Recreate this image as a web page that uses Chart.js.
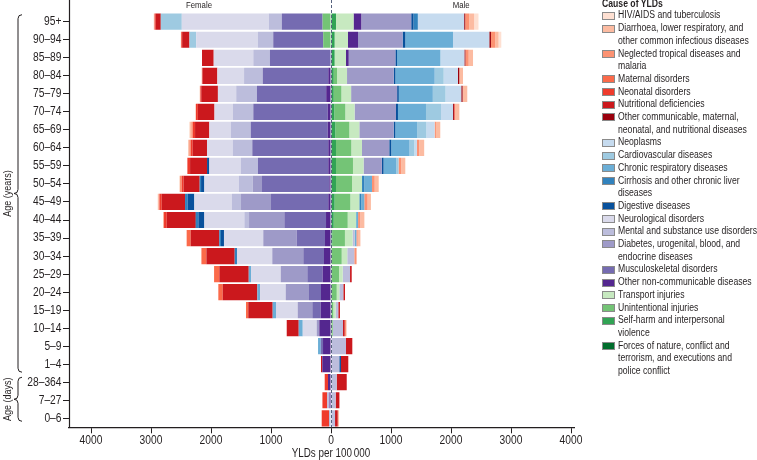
<!DOCTYPE html>
<html>
<head>
<meta charset="utf-8">
<script src="https://cdn.jsdelivr.net/npm/chart.js@4.4.0/dist/chart.umd.min.js"></script>
<style>
  body { margin: 0; background: #fff; }
  #wrap { position: relative; width: 757px; height: 460px; overflow: hidden; }
  #chart { position: absolute; left: 0; top: 0; }
  #legend {
    position: absolute; left: 602px; top: -2px;
    font-family: 'Liberation Sans', Arial, sans-serif;
    font-size: 10px; color: #231f20; white-space: pre;
  }
  #legend .txt { display: inline-block; transform: scaleX(0.865); transform-origin: 0 0; }
  #legend .title { font-weight: bold; line-height: 11.4px; }
  #legend .item { position: relative; padding-left: 16px; line-height: 12.7px; }
  #legend .sw {
    position: absolute; left: 0; top: 2.4px; width: 13px; height: 8px;
    box-sizing: border-box; border: 1px solid #8a8a8a;
  }
</style>
</head>
<body>
<div id="wrap">
  <canvas id="chart" width="757" height="460"></canvas>
  <div id="legend"></div>
</div>
<script>
// age groups, top to bottom
const ageGroups = ["95+", "90–94", "85–89", "80–84", "75–79", "70–74", "65–69", "60–64",
  "55–59", "50–54", "45–49", "40–44", "35–39", "30–34", "25–29", "20–24", "15–19",
  "10–14", "5–9", "1–4", "28–364", "7–27", "0–6"];

const xTicks = [-4000, -3000, -2000, -1000, 0, 1000, 2000, 3000, 4000];

// legend order
const causeNames = [
  "HIV/AIDS and tuberculosis",
  "Diarrhoea, lower respiratory, and\nother common infectious diseases",
  "Neglected tropical diseases and\nmalaria",
  "Maternal disorders",
  "Neonatal disorders",
  "Nutritional deficiencies",
  "Other communicable, maternal,\nneonatal, and nutritional diseases",
  "Neoplasms",
  "Cardiovascular diseases",
  "Chronic respiratory diseases",
  "Cirrhosis and other chronic liver\ndiseases",
  "Digestive diseases",
  "Neurological disorders",
  "Mental and substance use disorders",
  "Diabetes, urogenital, blood, and\nendocrine diseases",
  "Musculoskeletal disorders",
  "Other non-communicable diseases",
  "Transport injuries",
  "Unintentional injuries",
  "Self-harm and interpersonal\nviolence",
  "Forces of nature, conflict and\nterrorism, and executions and\npolice conflict"
];
const causeColors = ["#fee0d2", "#fcbba1", "#fc9272", "#fb6a4a", "#ef3b2c", "#cb181d", "#99000d",
  "#c6dbef", "#9ecae1", "#6baed6", "#3182bd", "#08519c",
  "#dadaeb", "#bcbddc", "#9e9ac8", "#756bb1", "#54278f",
  "#c7e9c0", "#74c476", "#31a354", "#006d2c"];

// Female, YLDs per 100 000
const fHIV =          [15, 10, 0, 0, 15, 10, 15, 0, 0, 15, 15, 0, 0, 0, 0, 0, 0, 0, 0, 0, 0, 0, 0];
const fDiarrhoea =    [0, 0, 0, 0, 0, 0, 20, 17, 0, 0, 0, 0, 0, 0, 0, 0, 0, 0, 0, 0, 0, 0, 0];
const fNTD =          [0, 0, 0, 10, 0, 0, 25, 25, 0, 28, 17, 12, 0, 0, 0, 0, 0, 0, 0, 0, 0, 0, 0];
const fMaternal =     [0, 0, 0, 0, 0, 0, 0, 0, 0, 0, 0, 0, 67, 83, 88, 73, 38, 0, 0, 0, 0, 0, 0];
const fNeonatal =     [20, 15, 0, 0, 15, 33, 38, 33, 45, 33, 38, 45, 0, 0, 0, 0, 0, 0, 0, 0, 55, 78, 122];
const fNutritional =  [85, 122, 195, 250, 278, 277, 238, 238, 283, 267, 388, 472, 477, 472, 490, 577, 407, 200, 0, 22, 0, 0, 0];
const fOtherComm =    [0, 0, 0, 0, 0, 0, 0, 0, 0, 0, 0, 12, 0, 0, 0, 0, 0, 0, 0, 0, 0, 0, 0];
const fNeoplasms =    [0, 0, 0, 0, 0, 0, 0, 0, 0, 0, 0, 0, 0, 0, 0, 0, 0, 0, 0, 0, 0, 0, 0];
const fCardio =       [350, 112, 0, 0, 0, 0, 0, 0, 0, 0, 0, 0, 0, 0, 0, 0, 0, 0, 0, 0, 0, 0, 0];
const fChronicResp =  [0, 0, 0, 0, 0, 0, 0, 0, 0, 0, 0, 0, 0, 0, 38, 45, 55, 67, 45, 0, 0, 0, 0];
const fCirrhosis =    [0, 0, 0, 0, 0, 0, 0, 0, 0, 23, 45, 43, 28, 38, 0, 0, 0, 0, 0, 0, 0, 0, 0];
const fDigestive =    [0, 0, 0, 0, 0, 0, 0, 0, 38, 55, 110, 100, 50, 0, 0, 0, 0, 0, 0, 0, 0, 0, 0];
const fNeuro =        [1450, 1027, 660, 445, 305, 307, 357, 428, 523, 573, 623, 667, 655, 588, 495, 428, 362, 233, 0, 0, 0, 0, 0];
const fMental =       [217, 257, 278, 311, 345, 340, 333, 327, 288, 233, 155, 78, 0, 0, 0, 0, 0, 0, 0, 0, 0, 40, 33];
const fDiabetes =     [0, 0, 0, 0, 0, 0, 0, 0, 0, 155, 500, 588, 557, 517, 443, 388, 243, 43, 0, 0, 0, 0, 0];
const fMusculo =      [680, 833, 1017, 1093, 1155, 1240, 1283, 1267, 1172, 1122, 955, 695, 472, 345, 257, 200, 140, 0, 38, 0, 0, 0, 0];
const fOtherNCD =     [0, 0, 0, 45, 80, 55, 55, 45, 45, 28, 45, 83, 100, 117, 138, 167, 172, 195, 133, 145, 50, 25, 0];
const fTransport =    [0, 0, 0, 0, 0, 0, 0, 0, 0, 0, 0, 0, 0, 0, 0, 0, 0, 0, 0, 0, 0, 0, 0];
const fUnintentional =[140, 130, 0, 0, 0, 0, 0, 0, 0, 0, 0, 0, 0, 0, 0, 0, 0, 0, 0, 0, 0, 0, 0];
const fSelfHarm =     [0, 0, 0, 0, 0, 0, 0, 0, 0, 0, 0, 0, 0, 0, 0, 0, 0, 0, 0, 0, 0, 0, 0];
const fForces =       [0, 0, 0, 0, 0, 0, 0, 0, 0, 0, 0, 0, 0, 0, 0, 0, 0, 0, 0, 0, 0, 0, 0];

// Male, YLDs per 100 000
const mHIV =          [72, 45, 0, 0, 0, 0, 0, 0, 0, 0, 0, 0, 0, 0, 0, 0, 0, 0, 0, 0, 0, 0, 0];
const mDiarrhoea =    [83, 55, 72, 62, 78, 78, 72, 83, 67, 67, 55, 67, 45, 0, 0, 0, 0, 0, 0, 0, 0, 0, 22];
const mNTD =          [67, 72, 55, 0, 0, 0, 22, 38, 45, 45, 55, 38, 22, 38, 0, 0, 0, 28, 0, 0, 0, 0, 0];
const mMaternal =     [0, 0, 0, 0, 0, 0, 0, 0, 0, 0, 0, 0, 0, 0, 0, 0, 0, 0, 0, 0, 0, 0, 0];
const mNeonatal =     [0, 0, 0, 0, 0, 13, 0, 0, 0, 0, 0, 0, 0, 0, 0, 0, 0, 0, 0, 0, 0, 0, 0];
const mNutritional =  [0, 0, 0, 0, 0, 0, 0, 0, 0, 0, 0, 0, 0, 0, 28, 28, 28, 28, 105, 122, 167, 62, 45];
const mOtherComm =    [17, 28, 17, 22, 22, 15, 0, 0, 0, 0, 0, 0, 0, 0, 0, 0, 0, 0, 0, 0, 0, 0, 0];
const mNeoplasms =    [772, 605, 400, 238, 262, 200, 138, 45, 0, 0, 0, 0, 0, 0, 0, 0, 0, 0, 0, 0, 0, 0, 0];
const mCardio =       [0, 0, 0, 150, 212, 250, 155, 78, 38, 0, 0, 0, 0, 0, 0, 0, 0, 0, 0, 0, 0, 0, 0];
const mChronicResp =  [0, 795, 722, 655, 567, 467, 362, 305, 212, 128, 50, 33, 28, 0, 0, 0, 0, 0, 0, 0, 0, 0, 0];
const mCirrhosis =    [72, 0, 0, 0, 0, 0, 0, 0, 0, 38, 33, 0, 0, 0, 0, 0, 0, 0, 0, 0, 0, 0, 0];
const mDigestive =    [38, 45, 28, 28, 28, 33, 28, 33, 28, 0, 0, 0, 0, 0, 0, 0, 0, 0, 0, 28, 0, 0, 0];
const mNeuro =        [0, 0, 0, 0, 0, 0, 0, 0, 0, 0, 0, 0, 0, 0, 0, 0, 0, 0, 0, 0, 0, 0, 0];
const mMental =       [0, 0, 0, 0, 0, 0, 0, 0, 0, 0, 0, 0, 35, 117, 122, 67, 45, 172, 250, 138, 95, 78, 67];
const mDiabetes =     [833, 743, 778, 778, 767, 690, 572, 455, 305, 0, 0, 0, 0, 0, 0, 0, 0, 0, 0, 0, 0, 0, 0];
const mMusculo =      [0, 0, 0, 0, 0, 0, 0, 0, 0, 0, 0, 0, 0, 0, 0, 0, 0, 0, 0, 0, 0, 0, 0];
const mOtherNCD =     [128, 167, 45, 0, 0, 0, 0, 0, 0, 0, 0, 0, 0, 0, 0, 0, 0, 0, 0, 0, 0, 0, 0];
const mTransport =    [293, 223, 190, 167, 162, 155, 167, 178, 177, 167, 150, 140, 128, 93, 62, 43, 38, 0, 0, 0, 0, 0, 0];
const mUnintentional =[0, 0, 0, 55, 128, 183, 233, 255, 283, 267, 262, 233, 212, 178, 133, 95, 38, 28, 0, 0, 0, 0, 0];
const mSelfHarm =     [83, 60, 60, 45, 45, 55, 72, 83, 83, 83, 60, 45, 20, 0, 0, 0, 0, 0, 0, 0, 0, 0, 0];
const mForces =       [0, 0, 0, 0, 0, 0, 0, 0, 0, 0, 0, 0, 0, 0, 0, 0, 0, 0, 0, 0, 0, 0, 0];

const femaleSeries = [fHIV, fDiarrhoea, fNTD, fMaternal, fNeonatal, fNutritional, fOtherComm,
  fNeoplasms, fCardio, fChronicResp, fCirrhosis, fDigestive, fNeuro, fMental, fDiabetes,
  fMusculo, fOtherNCD, fTransport, fUnintentional, fSelfHarm, fForces];
const maleSeries = [mHIV, mDiarrhoea, mNTD, mMaternal, mNeonatal, mNutritional, mOtherComm,
  mNeoplasms, mCardio, mChronicResp, mCirrhosis, mDigestive, mNeuro, mMental, mDiabetes,
  mMusculo, mOtherNCD, mTransport, mUnintentional, mSelfHarm, mForces];

// legend (html, so the long names wrap like the original)
const legendEl = document.getElementById("legend");
let html = '<div class="title"><span class="txt">Cause of YLDs</span></div>';
causeNames.forEach((name, i) => {
  html += '<div class="item"><span class="sw" style="background:' + causeColors[i] + '"></span>' +
    '<span class="txt">' + name + '</span></div>';
});
legendEl.innerHTML = html;

// stacks grow outward from zero: injuries first, infectious last
const datasets = [];
for (let i = causeNames.length - 1; i >= 0; i--) {
  datasets.push({ label: causeNames[i] + " (female)", data: femaleSeries[i].map(v => -v), backgroundColor: causeColors[i] });
  datasets.push({ label: causeNames[i] + " (male)", data: maleSeries[i], backgroundColor: causeColors[i] });
}

const FONT = "'Liberation Sans', Arial, sans-serif";
const INK = "#231f20";
const SQUEEZE = 0.82; // the original uses a condensed face

// condensed-looking text: normal face squeezed horizontally
function narrowText(ctx, text, x, y, size, align, angle) {
  ctx.save();
  ctx.translate(x, y);
  if (angle) ctx.rotate(angle);
  ctx.scale(SQUEEZE, 1);
  ctx.font = size + "px " + FONT;
  ctx.fillStyle = INK;
  ctx.textAlign = align;
  ctx.textBaseline = "middle";
  ctx.fillText(text, 0, 0);
  ctx.restore();
}

function drawBrace(ctx, x, y1, y2) {
  const ym = (y1 + y2) / 2, r = 4;
  ctx.beginPath();
  ctx.moveTo(x + 4, y1);
  ctx.quadraticCurveTo(x, y1, x, y1 + r);
  ctx.lineTo(x, ym - r);
  ctx.quadraticCurveTo(x, ym, x - 4, ym);
  ctx.quadraticCurveTo(x, ym, x, ym + r);
  ctx.lineTo(x, y2 - r);
  ctx.quadraticCurveTo(x, y2, x + 4, y2);
  ctx.stroke();
}

const decorations = {
  id: "decorations",
  afterDatasetsDraw(chart) {
    const { ctx, chartArea, scales } = chart;
    const xs = scales.x, ys = scales.y;
    ctx.save();
    // left axis line, runs to the top of the canvas
    ctx.strokeStyle = INK;
    ctx.lineWidth = 1.2;
    ctx.beginPath();
    ctx.moveTo(chartArea.left + 0.5, 0);
    ctx.lineTo(chartArea.left + 0.5, chartArea.bottom);
    ctx.stroke();
    // dashed zero line
    const x0 = Math.round(xs.getPixelForValue(0)) + 0.5;
    ctx.strokeStyle = "#56637e";
    ctx.lineWidth = 1;
    ctx.setLineDash([3, 2]);
    ctx.beginPath();
    ctx.moveTo(x0, 0);
    ctx.lineTo(x0, chartArea.bottom);
    ctx.stroke();
    ctx.setLineDash([]);
    ctx.restore();

    // tick labels
    ageGroups.forEach((lab, i) => narrowText(ctx, lab, chartArea.left - 7.5, ys.getPixelForValue(i), 12.5, "right"));
    xTicks.forEach(v => narrowText(ctx, String(Math.abs(v)), xs.getPixelForValue(v), 440.5, 12.5, "center"));
    narrowText(ctx, "YLDs per 100\u202f000", xs.getPixelForValue(0), 453.5, 12, "center");

    // sex headers
    narrowText(ctx, "Female", xs.getPixelForValue(-2200), 5, 9.5, "center");
    narrowText(ctx, "Male", xs.getPixelForValue(2170), 5, 9.5, "center");

    // age braces
    ctx.save();
    ctx.strokeStyle = INK;
    ctx.lineWidth = 1;
    const yTop = ys.getPixelForValue(0) - 7;
    const yYearsEnd = ys.getPixelForValue(19) + 8;
    const yDaysTop = ys.getPixelForValue(20) - 5;
    const yDaysEnd = ys.getPixelForValue(22) + 3;
    drawBrace(ctx, 18, yTop, yYearsEnd);
    drawBrace(ctx, 18, yDaysTop, yDaysEnd);
    ctx.restore();
    narrowText(ctx, "Age (years)", 8, (yTop + yYearsEnd) / 2, 11, "center", -Math.PI / 2);
    narrowText(ctx, "Age (days)", 8, (yDaysTop + yDaysEnd) / 2, 11, "center", -Math.PI / 2);
  }
};

new Chart(document.getElementById("chart"), {
  type: "bar",
  data: { labels: ageGroups, datasets: datasets },
  options: {
    responsive: false,
    animation: false,
    indexAxis: "y",
    layout: { padding: { left: 0, right: 183, top: 12.7, bottom: 0 } },
    datasets: { bar: { barPercentage: 0.9, categoryPercentage: 1, borderWidth: 0 } },
    plugins: { legend: { display: false }, tooltip: { enabled: false } },
    scales: {
      x: {
        type: "linear",
        stacked: true,
        min: -4367,
        max: 4050,
        afterBuildTicks: (s) => { s.ticks = xTicks.map(v => ({ value: v })); },
        afterFit: (s) => { s.height = 32.7; },
        ticks: { display: false },
        grid: { drawOnChartArea: false, drawTicks: true, tickLength: 6, color: INK },
        border: { color: INK, width: 1.2 }
      },
      y: {
        stacked: true,
        afterFit: (s) => { s.width = 69; },
        ticks: { display: false },
        grid: { drawOnChartArea: false, drawTicks: true, tickLength: 6, color: INK, offset: false },
        border: { display: false }
      }
    }
  },
  plugins: [decorations]
});
</script>
</body>
</html>
